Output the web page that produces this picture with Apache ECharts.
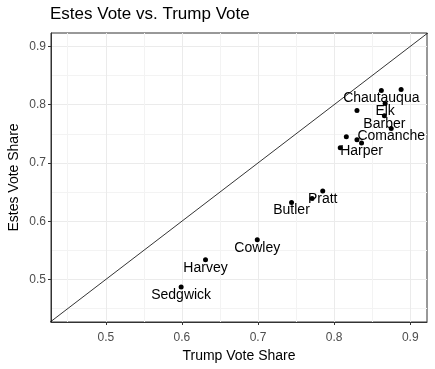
<!DOCTYPE html>
<html><head><meta charset="utf-8">
<script src="https://cdn.jsdelivr.net/npm/echarts@6/dist/echarts.min.js"></script>
<style>html,body{margin:0;padding:0;background:#fff}#c{width:435px;height:369px}</style>
</head><body><div id="c"></div>
<script>
// Data: Trump vote share (x) vs Estes vote share (y), Kansas counties
const trumpShare = [0.862, 0.888, 0.830, 0.867, 0.866, 0.875, 0.816, 0.830, 0.836, 0.808, 0.785, 0.771, 0.744, 0.699, 0.631, 0.599];
const estesShare = [0.8245, 0.826, 0.790, 0.802, 0.781, 0.759, 0.745, 0.740, 0.734, 0.726, 0.652, 0.639, 0.632, 0.568, 0.534, 0.487];
const countyLabels = ['Chautauqua', '', '', 'Elk', 'Barber', 'Comanche', '', '', 'Harper', '', 'Pratt', '', 'Butler', 'Cowley', 'Harvey', 'Sedgwick'];
const majorTicks = [0.5, 0.6, 0.7, 0.8, 0.9];
const minorTicks = [0.45, 0.55, 0.65, 0.75, 0.85];
const axisMin = 0.428, axisMax = 0.922;
const yMin = 0.427, yMax = 0.923;
const diagLine = [0.3, 1.0];

const chart = echarts.init(document.getElementById('c'));
const FONT = 'Liberation Sans, Arial, sans-serif';
const pts = trumpShare.map((x, i) => [x, estesShare[i]]);
const labelled = pts.map((p, i) => ({ value: p, name: countyLabels[i] })).filter(d => d.name);

function mkAxis(min, max, ticks, isMinor, labelMargin, opts) {
  return Object.assign({
    type: 'value', min: min, max: max,
    axisLine: { show: !isMinor, onZero: false, lineStyle: { color: '#333333', width: 1 } },
    axisTick: { show: !isMinor, customValues: ticks, length: 3, lineStyle: { color: '#333333' } },
    axisLabel: { show: !isMinor, customValues: ticks, color: '#4d4d4d', fontSize: 12, fontFamily: FONT, margin: labelMargin, formatter: v => String(+v.toFixed(2)) },
    splitLine: { show: true, lineStyle: { color: isMinor ? '#f3f3f3' : '#ebebeb', width: 1 } }
  }, opts || {});
}

chart.setOption({
  animation: false,
  backgroundColor: '#ffffff',
  title: { text: 'Estes Vote vs. Trump Vote', left: 45, top: 1, textStyle: { fontFamily: FONT, fontSize: 17, fontWeight: 'normal', color: '#000' } },
  grid: { left: 51, right: 8, top: 33, bottom: 47, containLabel: false, outerBoundsMode: 'none', show: true, borderColor: '#333333', borderWidth: 1, backgroundColor: 'transparent' },
  xAxis: [
    mkAxis(axisMin, axisMax, minorTicks, true, 10, { position: 'bottom' }),
    mkAxis(axisMin, axisMax, majorTicks, false, 10, { position: 'bottom', name: 'Trump Vote Share', nameLocation: 'middle', nameGap: 26, nameTextStyle: { fontFamily: FONT, fontSize: 14, color: '#000' } })
  ],
  yAxis: [
    mkAxis(yMin, yMax, minorTicks, true, 5, { position: 'left' }),
    mkAxis(yMin, yMax, majorTicks, false, 5, { position: 'left', name: 'Estes Vote Share', nameLocation: 'middle', nameGap: 30, nameMoveOverlap: false, nameRotate: 90, nameTextStyle: { fontFamily: FONT, fontSize: 14, color: '#000' } })
  ],
  series: [
    { type: 'line', xAxisIndex: 1, yAxisIndex: 1, data: diagLine.map(v => [v, v]), symbol: 'none', clip: true, lineStyle: { color: '#000', width: 0.8 }, silent: true },
    { type: 'scatter', xAxisIndex: 1, yAxisIndex: 1, data: pts, symbolSize: 5, itemStyle: { color: '#000', opacity: 1 } },
    { type: 'scatter', xAxisIndex: 1, yAxisIndex: 1, data: labelled, symbolSize: 0, itemStyle: { opacity: 1 },
      label: { show: true, position: 'inside', offset: [0, 8], formatter: p => p.name, color: '#000', opacity: 1, fontSize: 14, fontFamily: FONT } }
  ]
});
</script></body></html>
